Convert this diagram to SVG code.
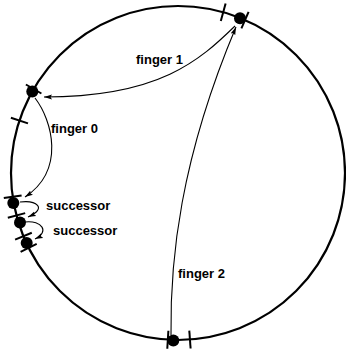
<svg xmlns="http://www.w3.org/2000/svg" width="346" height="352" viewBox="0 0 346 352">
<style>
.ring{fill:none;stroke:#000;stroke-width:2.2}
.tick{stroke:#000;stroke-width:2;stroke-linecap:butt}
.node{fill:#000}
.arc{fill:none;stroke:#000;stroke-width:1.1}
.lbl{font-family:"Liberation Sans",Arial,sans-serif;font-weight:bold;font-size:13px;fill:#000}
</style>
<defs>
<marker id="ah" markerUnits="userSpaceOnUse" markerWidth="9" markerHeight="6" refX="8" refY="3" orient="auto">
<path d="M0,0.5 L8,3 L0,5.5 L1.5,3 z" fill="#000"/>
</marker>
</defs>
<g id="ring">
<circle class="ring" cx="178" cy="173" r="167"/>
<line class="tick" x1="41.4" y1="93.5" x2="25.9" y2="84.5"/>
<line class="tick" x1="28.0" y1="123.4" x2="10.9" y2="117.7"/>
<line class="tick" x1="21.6" y1="195.5" x2="3.8" y2="198.1"/>
<line class="tick" x1="25.2" y1="213.1" x2="7.8" y2="217.7"/>
<line class="tick" x1="31.8" y1="232.8" x2="15.1" y2="239.6"/>
<line class="tick" x1="36.7" y1="243.8" x2="20.6" y2="251.8"/>
<line class="tick" x1="220.8" y1="20.9" x2="225.6" y2="3.6"/>
<line class="tick" x1="241.4" y1="28.3" x2="248.6" y2="11.8"/>
<line class="tick" x1="168.4" y1="330.7" x2="167.3" y2="348.7"/>
<line class="tick" x1="189.3" y1="330.6" x2="190.6" y2="348.5"/>
</g>
<g id="nodeA"><circle class="node" cx="32.3" cy="91.5" r="6"/></g>
<g id="nodeB"><circle class="node" cx="13.3" cy="203" r="6"/></g>
<g id="nodeC"><circle class="node" cx="20" cy="222.5" r="6"/></g>
<g id="nodeD"><circle class="node" cx="26.7" cy="243" r="6"/></g>
<g id="nodeE"><circle class="node" cx="240" cy="18.3" r="6"/></g>
<g id="nodeF"><circle class="node" cx="173.3" cy="340.5" r="6"/></g>
<g id="connectors">
<path class="arc" d="M235,26 C200,60 160,97 44,97" marker-end="url(#ah)"/>
<path class="arc" d="M35,98 C52,120 66,170 25,197" marker-end="url(#ah)"/>
<path class="arc" d="M20,202 C36,200 48,208 28,217" marker-end="url(#ah)"/>
<path class="arc" d="M25,222 C42,220 50,232 35,239" marker-end="url(#ah)"/>
<path class="arc" d="M171,335 C170,260 180,160 236,27" marker-end="url(#ah)"/>
</g>
<g id="labels">
<text class="lbl" x="136" y="64">finger 1</text>
<text class="lbl" x="51" y="133">finger 0</text>
<text class="lbl" x="46" y="210">successor</text>
<text class="lbl" x="53" y="235">successor</text>
<text class="lbl" x="178" y="278">finger 2</text>
</g>
</svg>
